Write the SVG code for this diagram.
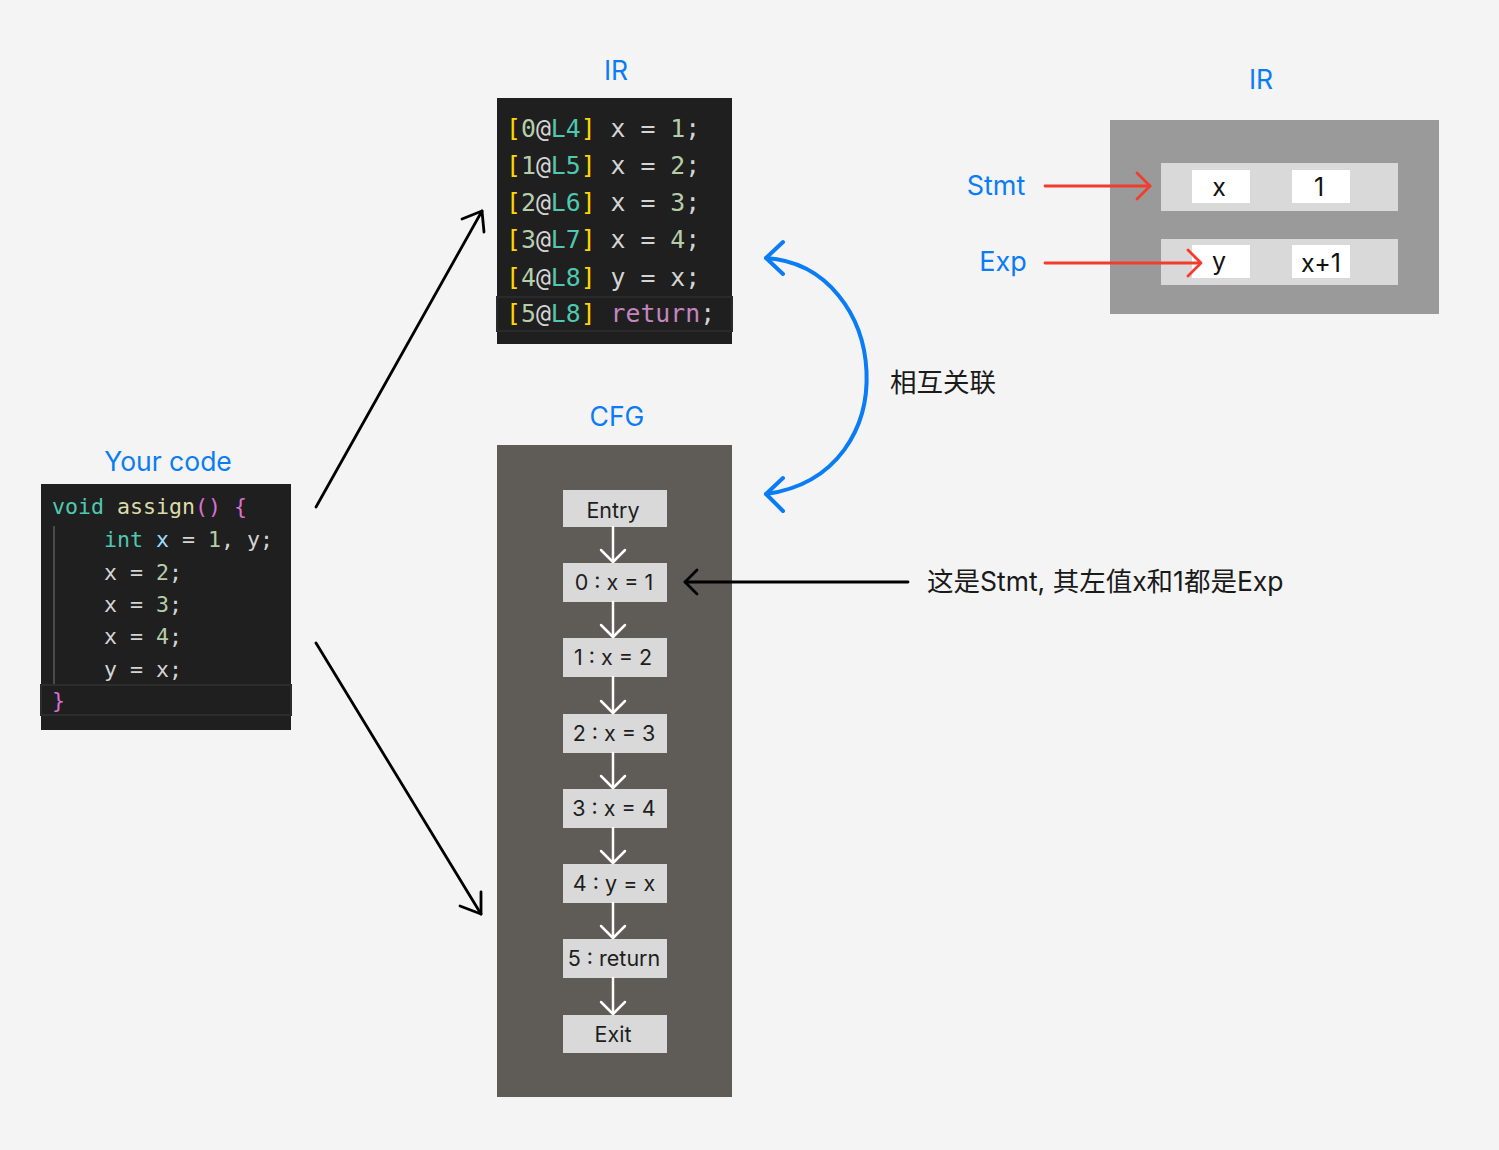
<svg xmlns="http://www.w3.org/2000/svg" width="1499" height="1150" viewBox="0 0 1499 1150">
<defs>
<style>
.title{font-family:Inter,"Noto Sans",sans-serif;font-size:26.5px;fill:#0a7cf5;}
.mono{font-family:"DejaVu Sans Mono","Liberation Mono",monospace;}
.ir{font-size:24.8px;}
.src{font-size:21.6px;}
.node rect{fill:#d9d9d9;}
.node text{font-family:Inter,"Noto Sans",sans-serif;font-size:21.5px;fill:#1e1e1e;text-anchor:middle;}
.cell{fill:#ffffff;}
.celltxt{font-family:Inter,"Noto Sans",sans-serif;font-size:25px;fill:#111;text-anchor:middle;}
.lbl{font-family:Inter,"Noto Sans","Noto Sans CJK SC",sans-serif;font-size:26.5px;fill:#1a1a1a;}
.yb{fill:#ffd700;} .num{fill:#b5cea8;} .at{fill:#d4d4d4;} .lab{fill:#4ec9b0;} .pl{fill:#d4d4d4;} .kw{fill:#c586c0;}
.ty{fill:#4ec9b0;} .fn{fill:#dcdcaa;} .par{fill:#da70d6;} .var{fill:#9cdcfe;}
</style>
</defs>
<rect width="1499" height="1150" fill="#f4f4f4"/>

<!-- Your code -->
<g id="your-code">
<text class="title" x="168" y="471" text-anchor="middle">Your code</text>
<rect x="41" y="484" width="250" height="246" fill="#1f1f1f"/>
<rect x="41" y="685" width="250" height="30" fill="#1f1f1f" stroke="#2c2c2c" stroke-width="2"/>
<line x1="54" y1="526" x2="54" y2="684" stroke="#4a4a4a" stroke-width="2"/>
<g class="mono src">
<text x="52" y="514"><tspan class="ty">void</tspan><tspan class="fn"> assign</tspan><tspan class="par">()</tspan><tspan class="par"> {</tspan></text>
<text x="104" y="547"><tspan class="ty">int</tspan><tspan class="var"> x</tspan><tspan class="pl"> = </tspan><tspan class="num">1</tspan><tspan class="pl">, y;</tspan></text>
<text x="104" y="580"><tspan class="pl">x = </tspan><tspan class="num">2</tspan><tspan class="pl">;</tspan></text>
<text x="104" y="612"><tspan class="pl">x = </tspan><tspan class="num">3</tspan><tspan class="pl">;</tspan></text>
<text x="104" y="644"><tspan class="pl">x = </tspan><tspan class="num">4</tspan><tspan class="pl">;</tspan></text>
<text x="104" y="677"><tspan class="pl">y = x;</tspan></text>
<text x="52" y="708" class="par">}</text>
</g>
</g>

<!-- IR code -->
<g id="ir-code">
<text class="title" x="616" y="80" text-anchor="middle">IR</text>
<rect x="497" y="98" width="235" height="246" fill="#1f1f1f"/>
<rect x="497" y="297" width="235" height="34" fill="#1f1f1f" stroke="#2a2a2a" stroke-width="2"/>
<g class="mono ir">
<text x="506" y="137"><tspan class="yb">[</tspan><tspan class="num">0</tspan><tspan class="at">@</tspan><tspan class="lab">L4</tspan><tspan class="yb">]</tspan><tspan class="pl"> x = </tspan><tspan class="num">1</tspan><tspan class="pl">;</tspan></text>
<text x="506" y="174"><tspan class="yb">[</tspan><tspan class="num">1</tspan><tspan class="at">@</tspan><tspan class="lab">L5</tspan><tspan class="yb">]</tspan><tspan class="pl"> x = </tspan><tspan class="num">2</tspan><tspan class="pl">;</tspan></text>
<text x="506" y="211"><tspan class="yb">[</tspan><tspan class="num">2</tspan><tspan class="at">@</tspan><tspan class="lab">L6</tspan><tspan class="yb">]</tspan><tspan class="pl"> x = </tspan><tspan class="num">3</tspan><tspan class="pl">;</tspan></text>
<text x="506" y="248"><tspan class="yb">[</tspan><tspan class="num">3</tspan><tspan class="at">@</tspan><tspan class="lab">L7</tspan><tspan class="yb">]</tspan><tspan class="pl"> x = </tspan><tspan class="num">4</tspan><tspan class="pl">;</tspan></text>
<text x="506" y="286"><tspan class="yb">[</tspan><tspan class="num">4</tspan><tspan class="at">@</tspan><tspan class="lab">L8</tspan><tspan class="yb">]</tspan><tspan class="pl"> y = x;</tspan></text>
<text x="506" y="322"><tspan class="yb">[</tspan><tspan class="num">5</tspan><tspan class="at">@</tspan><tspan class="lab">L8</tspan><tspan class="yb">]</tspan><tspan class="kw"> return</tspan><tspan class="pl">;</tspan></text>
</g>
</g>

<!-- CFG -->
<g id="cfg">
<text class="title" x="617" y="426" text-anchor="middle">CFG</text>
<rect x="497" y="445" width="235" height="652" fill="#5f5b56"/>
</g>
<g id="n-entry" class="node"><rect x="563" y="490" width="104" height="37"/><text x="613" y="518">Entry</text></g>
<g id="n-0" class="node"><rect x="563" y="563" width="104" height="39"/><text x="614" y="590">0 : x = 1</text></g>
<g id="n-1" class="node"><rect x="563" y="638" width="104" height="39"/><text x="613" y="665">1 : x = 2</text></g>
<g id="n-2" class="node"><rect x="563" y="714" width="104" height="39"/><text x="614" y="741">2 : x = 3</text></g>
<g id="n-3" class="node"><rect x="563" y="789" width="104" height="39"/><text x="614" y="816">3 : x = 4</text></g>
<g id="n-4" class="node"><rect x="563" y="864" width="104" height="39"/><text x="614" y="891">4 : y = x</text></g>
<g id="n-5" class="node"><rect x="563" y="939" width="104" height="39"/><text x="614" y="966">5 : return</text></g>
<g id="n-exit" class="node"><rect x="563" y="1015" width="104" height="38"/><text x="613" y="1042">Exit</text></g>

<!-- Right IR -->
<g id="ir-struct">
<text class="title" x="1261" y="89" text-anchor="middle">IR</text>
<rect x="1110" y="120" width="329" height="194" fill="#9a9a9a"/>
<rect x="1161" y="163" width="237" height="48" fill="#d9d9d9"/>
<rect class="cell" x="1192" y="170" width="58" height="33"/>
<rect class="cell" x="1292" y="170" width="58" height="33"/>
<text class="celltxt" x="1219" y="196">x</text>
<text class="celltxt" x="1319" y="196">1</text>
<rect x="1161" y="239" width="237" height="46" fill="#d9d9d9"/>
<rect class="cell" x="1192" y="245" width="58" height="33"/>
<rect class="cell" x="1292" y="245" width="58" height="33"/>
<text class="celltxt" x="1219" y="270">y</text>
<text class="celltxt" x="1321" y="272">x+1</text>
</g>
<g id="lbl-stmt"><text class="title" x="996" y="195" text-anchor="middle" style="font-size:27px">Stmt</text></g>
<g id="lbl-exp"><text class="title" x="1003" y="271" text-anchor="middle" style="font-size:27px">Exp</text></g>
<g id="lbl-assoc"><text class="lbl" x="890" y="392">相互关联</text></g>
<g id="lbl-note"><text class="lbl" x="927" y="591">这是Stmt, 其左值x和1都是Exp</text></g>

<!-- connectors -->
<g id="connectors" fill="none" stroke-linecap="round" stroke-linejoin="round">
<g stroke="#fff" stroke-width="2.5">
<line x1="613" y1="527" x2="613" y2="562"/><path d="M601,550 L613,562 L625,550"/>
<line x1="613" y1="602" x2="613" y2="637"/><path d="M601,625 L613,637 L625,625"/>
<line x1="613" y1="677" x2="613" y2="713"/><path d="M601,701 L613,713 L625,701"/>
<line x1="613" y1="753" x2="613" y2="788"/><path d="M601,776 L613,788 L625,776"/>
<line x1="613" y1="828" x2="613" y2="863"/><path d="M601,851 L613,863 L625,851"/>
<line x1="613" y1="903" x2="613" y2="938"/><path d="M601,926 L613,938 L625,926"/>
<line x1="613" y1="978" x2="613" y2="1014"/><path d="M601,1002 L613,1014 L625,1002"/>
</g>
<g stroke="#000" stroke-width="2.8">
<line x1="316" y1="507" x2="482" y2="211"/><path d="M462,219 L482,211 L484,232"/>
<line x1="316" y1="643" x2="481" y2="914"/><path d="M460,906 L481,914 L481,892"/>
<line x1="908" y1="582" x2="685" y2="582"/><path d="M697,570 L685,582 L697,594"/>
</g>
<g stroke="#0a7cf5" stroke-width="4">
<path d="M766,258 C890,266 910,474 766,494"/>
<path d="M783,242 L766,258 L783,274"/>
<path d="M783,478 L766,494 L783,511"/>
</g>
<g stroke="#f23d2e" stroke-width="2.8">
<line x1="1045" y1="186" x2="1150" y2="186"/><path d="M1137,173 L1150,186 L1137,199"/>
<line x1="1045" y1="263" x2="1200" y2="263"/><path d="M1188,250 L1201,263 L1188,276"/>
</g>
</g>
</svg>
